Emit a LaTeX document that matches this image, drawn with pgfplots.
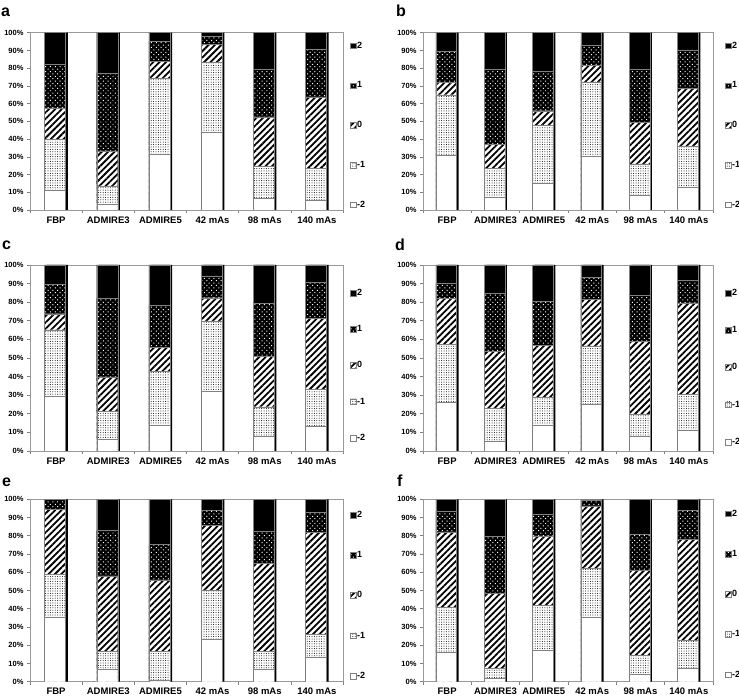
\documentclass[border=0pt]{standalone}
\usepackage{pgfplots}
\pgfplotsset{compat=1.18}
\usepackage{pgfplotstable}
\usepackage{fontspec}
\setmainfont{Liberation Sans}
\usetikzlibrary{patterns.meta}

\pgfplotstableread{
x t2 t1 t0 tm1 tm2
0 100 82.2 57.6 39.8 11
1 100 77.3 33.4 13.3 3.2
2 100 95.1 83.9 74.1 31.7
3 100 98.1 93.4 83.1 43.7
4 100 79.5 52.5 24.6 6.4
5 100 90.6 63.8 23.6 5.4
}\dataA
\pgfplotstableread{
x t2 t1 t0 tm1 tm2
0 100 89.7 72 65 30.8
1 100 79.4 37 23.4 7.3
2 100 78.1 56 47.7 15.3
3 100 92.9 81.7 72.3 30.3
4 100 79.4 49.5 26 8.4
5 100 90.3 68.8 36.1 13.1
}\dataB
\pgfplotstableread{
x t2 t1 t0 tm1 tm2
0 100 89.8 73.8 65.2 29.4
1 100 82 39.8 21.3 6.1
2 100 78.3 55.7 43 13.8
3 100 94.1 82.4 70 31.9
4 100 79.2 50.9 23.8 7.7
5 100 90.9 71.5 33 13.1
}\dataC
\pgfplotstableread{
x t2 t1 t0 tm1 tm2
0 100 90.1 81.9 57.3 26.2
1 100 84.6 53.4 22.9 5.4
2 100 80.3 56.8 29 14
3 100 93.2 81.5 56.5 25.4
4 100 83.7 58.8 19.7 7.7
5 100 91.8 79.7 30.6 11.3
}\dataD
\pgfplotstableread{
x t2 t1 t0 tm1 tm2
0 100 100 94.5 58.7 35.1
1 100 83 58 16.8 6.8
2 100 75.3 55.8 16.8 0.7
3 100 94 85.7 50.1 23.4
4 100 82.6 64.7 16.8 6.8
5 100 92.7 81.7 25.8 13.5
}\dataE
\pgfplotstableread{
x t2 t1 t0 tm1 tm2
0 100 93.5 82.2 40.8 16
1 100 79.5 48.6 7.3 1.8
2 100 91.7 79.9 41.7 17.2
3 100 99.5 96.4 62.3 35.4
4 100 80.9 61 14.5 4.2
5 100 94 78.2 22.7 7.4
}\dataF

\pgfplotsset{
  panel/.style={
    scale only axis,
    anchor=south west,
    ybar,
    ymin=0, ymax=100, xmin=-0.5, xmax=5.5,
    ytick={0,10,...,100},
    yticklabel={\pgfmathprintnumber{\tick}\%},
    xtick={0,...,5},
    xticklabels={FBP,ADMIRE3,ADMIRE5,42 mAs,98 mAs,140 mAs},
    minor xtick={-0.5,0.5,...,5.5},
    tick align=outside, xtick pos=bottom, ytick pos=left,
    major x tick style={draw=none},
    tick style={gray, line width=0.6pt},
    major tick length=3pt, minor tick length=3.5pt,
    axis line style={gray!80, line width=0.6pt},
    /pgf/number format/assume math mode=true,
    yticklabel style={font=\bfseries\fontsize{7.5}{8}\selectfont},
    xticklabel style={font=\bfseries\fontsize{9.5}{10}\selectfont},
    legend image code/.code={\draw[##1] (0pt,-2.8pt) rectangle (5.6pt,2.8pt);},
    legend style={draw=none, fill=none, anchor=north west,
      font=\bfseries\fontsize{9}{10}\selectfont, inner sep=0pt,
      nodes={inner sep=1pt}},
    legend cell align=left,
  },
  shadowbar/.style={fill=black, draw=none, bar shift=1.2pt, forget plot},
  s2/.style={fill=black, draw=gray, line width=0.4pt, bar shift=-1pt},
  s1/.style={fill=black, draw=gray, line width=0.4pt, bar shift=-1pt,
    postaction={pattern={Dots[distance=3.4pt,radius=0.7pt,angle=45]}, pattern color=white}},
  s0/.style={fill=white, draw=gray, line width=0.4pt, bar shift=-1pt,
    postaction={pattern={Lines[angle=45,distance=4.5pt,line width=1.8pt]}, pattern color=black}},
  sm1/.style={fill=white, draw=gray, line width=0.4pt, bar shift=-1pt,
    postaction={pattern={Dots[distance=2.4pt,radius=0.5pt]}, pattern color=black}},
  sm2/.style={fill=white, draw=gray, line width=0.4pt, bar shift=-1pt},
}

\newcommand\panelplots[1]{%
  \addplot[shadowbar] table[x=x,y=t2]{#1};
  \addplot[s2] table[x=x,y=t2]{#1};
  \addplot[s1] table[x=x,y=t1]{#1};
  \addplot[s0] table[x=x,y=t0]{#1};
  \addplot[sm1] table[x=x,y=tm1]{#1};
  \addplot[sm2] table[x=x,y=tm2]{#1};
  \legend{2,1,0,-1,-2}
}

\begin{document}
\begin{tikzpicture}
\useasboundingbox (0,0) rectangle (739pt,699pt);
\tikzset{lab/.style={anchor=base west, inner sep=0pt, font=\bfseries\fontsize{16}{16}\selectfont}}
\node[lab] at (1pt,682pt) {a};
\node[lab] at (396pt,682pt) {b};
\node[lab] at (2pt,449pt) {c};
\node[lab] at (395pt,448pt) {d};
\node[lab] at (2pt,212pt) {e};
\node[lab] at (397pt,212pt) {f};

\begin{axis}[panel, at={(30pt,489pt)}, width=313pt, height=177.3pt, bar width=21pt,
  legend style={at={(1.022,0.955)}, row sep=30pt}]
\panelplots{\dataA}
\end{axis}
\begin{axis}[panel, at={(423pt,489pt)}, width=290pt, height=177.3pt, bar width=20.5pt,
  legend style={at={(1.041,0.955)}, row sep=30pt}]
\panelplots{\dataB}
\end{axis}
\begin{axis}[panel, at={(30pt,248pt)}, width=313pt, height=186pt, bar width=21pt,
  legend style={at={(1.022,0.877)}, row sep=26.5pt}]
\panelplots{\dataC}
\end{axis}
\begin{axis}[panel, at={(423pt,248pt)}, width=290pt, height=186pt, bar width=20.5pt,
  legend style={at={(1.041,0.877)}, row sep=27.5pt}]
\panelplots{\dataD}
\end{axis}
\begin{axis}[panel, at={(30pt,17.3pt)}, width=313pt, height=182.4pt, bar width=21pt,
  legend style={at={(1.022,0.942)}, row sep=30.5pt}]
\panelplots{\dataE}
\end{axis}
\begin{axis}[panel, at={(423pt,17.3pt)}, width=290pt, height=182.4pt, bar width=20.5pt,
  legend style={at={(1.041,0.949)}, row sep=30.5pt}]
\panelplots{\dataF}
\end{axis}
\end{tikzpicture}
\end{document}
